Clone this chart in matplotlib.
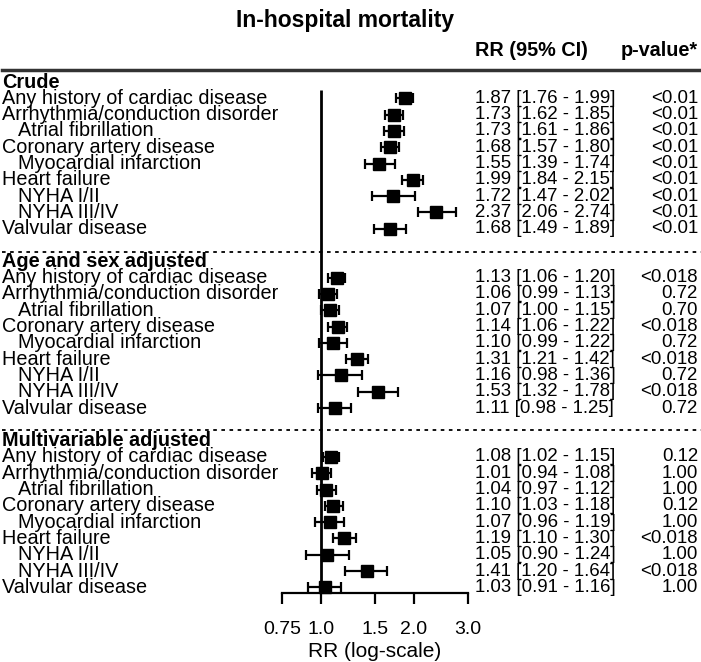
import matplotlib
matplotlib.use("Agg")
import matplotlib.pyplot as plt
from matplotlib.transforms import blended_transform_factory
from matplotlib.lines import Line2D

plt.rcParams['font.family'] = ['Liberation Sans', 'DejaVu Sans']

# ---------------- data ----------------
section_titles = ["Crude", "Age and sex adjusted", "Multivariable adjusted"]
row_labels = ["Any history of cardiac disease", "Arrhythmia/conduction disorder",
              "Atrial fibrillation", "Coronary artery disease", "Myocardial infarction",
              "Heart failure", "NYHA I/II", "NYHA III/IV", "Valvular disease"]
indented = [False, False, True, False, True, False, True, True, False]

crude_rr = [1.87, 1.73, 1.73, 1.68, 1.55, 1.99, 1.72, 2.37, 1.68]
crude_lo = [1.76, 1.62, 1.61, 1.57, 1.39, 1.84, 1.47, 2.06, 1.49]
crude_hi = [1.99, 1.85, 1.86, 1.80, 1.74, 2.15, 2.02, 2.74, 1.89]
crude_p = ["<0.01"] * 9

age_rr = [1.13, 1.06, 1.07, 1.14, 1.10, 1.31, 1.16, 1.53, 1.11]
age_lo = [1.06, 0.99, 1.00, 1.06, 0.99, 1.21, 0.98, 1.32, 0.98]
age_hi = [1.20, 1.13, 1.15, 1.22, 1.22, 1.42, 1.36, 1.78, 1.25]
age_p = ["<0.018", "0.72", "0.70", "<0.018", "0.72", "<0.018", "0.72", "<0.018", "0.72"]

multi_rr = [1.08, 1.01, 1.04, 1.10, 1.07, 1.19, 1.05, 1.41, 1.03]
multi_lo = [1.02, 0.94, 0.97, 1.03, 0.96, 1.10, 0.90, 1.20, 0.91]
multi_hi = [1.15, 1.08, 1.12, 1.18, 1.19, 1.30, 1.24, 1.64, 1.16]
multi_p = ["0.12", "1.00", "1.00", "0.12", "1.00", "<0.018", "1.00", "<0.018", "1.00"]

xticks = [0.75, 1.0, 1.5, 2.0, 3.0]
xtick_labels = ["0.75", "1.0", "1.5", "2.0", "3.0"]

sections = [
    (crude_rr, crude_lo, crude_hi, crude_p),
    (age_rr, age_lo, age_hi, age_p),
    (multi_rr, multi_lo, multi_hi, multi_p),
]

# ---------------- layout ----------------
W, H = 701, 662
fig = plt.figure(figsize=(W / 100, H / 100), dpi=100)

row0_px, row_h = 82.0, 16.3
ax_top_px, ax_bot_px = 70.0, 593.0
ax_l_px, ax_r_px = 282.0, 468.0
ax = fig.add_axes([ax_l_px / W, 1 - ax_bot_px / H, (ax_r_px - ax_l_px) / W,
                   (ax_bot_px - ax_top_px) / H])
ax.set_xscale('log')
ax.set_xlim(0.75, 3.0)
ybot = (ax_bot_px - row0_px) / row_h
ytop = (ax_top_px - row0_px) / row_h
ax.set_ylim(ybot, ytop)
for s in ['top', 'left', 'right']:
    ax.spines[s].set_visible(False)
ax.spines['bottom'].set_linewidth(1.6)
ax.set_yticks([])
ax.set_xticks(xticks)
ax.set_xticklabels(xtick_labels)
ax.xaxis.set_minor_locator(matplotlib.ticker.NullLocator())
ax.tick_params(axis='x', direction='out', length=8, width=1.6, labelsize=14, pad=12)
ax.set_xlabel("RR (log-scale)", fontsize=15, labelpad=3)

tr = blended_transform_factory(fig.transFigure, ax.transData)

label_fs = 14.3
num_fs = 13.4

# reference line at 1
ax.vlines(1.0, 0.5, ybot, color='black', lw=2, zorder=1)

header_rows = [0, 11, 22]
sep_rows = [10.43, 21.35]

for si, (rr, lo, hi, pv) in enumerate(sections):
    h = header_rows[si]
    fig.text(2 / W, h, section_titles[si], transform=tr, fontsize=label_fs,
             fontweight='bold', ha='left', va='center')
    for i in range(len(rr)):
        y = h + 1 + i
        xoff = 18 if indented[i] else 2
        fig.text(xoff / W, y, row_labels[i], fontsize=label_fs, ha='left',
                 va='center', transform=tr)
        fig.text(475 / W, y, f"{rr[i]:.2f} [{lo[i]:.2f} - {hi[i]:.2f}]",
                 fontsize=num_fs, ha='left', va='center', transform=tr)
        fig.text(698 / W, y, pv[i], fontsize=num_fs, ha='right', va='center',
                 transform=tr)
        ax.errorbar(rr[i], y, xerr=[[rr[i] - lo[i]], [hi[i] - rr[i]]], fmt='s',
                    color='black', ms=8.5, elinewidth=1.6, capsize=3.5,
                    capthick=1.6, zorder=3, clip_on=False)

# separators
for ys in sep_rows:
    fig.add_artist(Line2D([2 / W, 1.0], [ys, ys], transform=tr, color='black',
                          lw=1.3, linestyle=(0, (2, 2.5))))
fig.add_artist(Line2D([2 / W, 1.0], [ytop, ytop], transform=tr, color='#333333',
                      lw=2.5))

# titles
fig.text(345 / W, 1 - 21 / H, "In-hospital mortality", fontsize=16.5,
         fontweight='bold', ha='center', va='center')
fig.text(475 / W, 1 - 50 / H, "RR (95% CI)", fontsize=14.3, fontweight='bold',
         ha='left', va='center')
fig.text(698 / W, 1 - 50 / H, "p-value*", fontsize=14.3, fontweight='bold',
         ha='right', va='center')

fig.savefig("out.png", dpi=100)
